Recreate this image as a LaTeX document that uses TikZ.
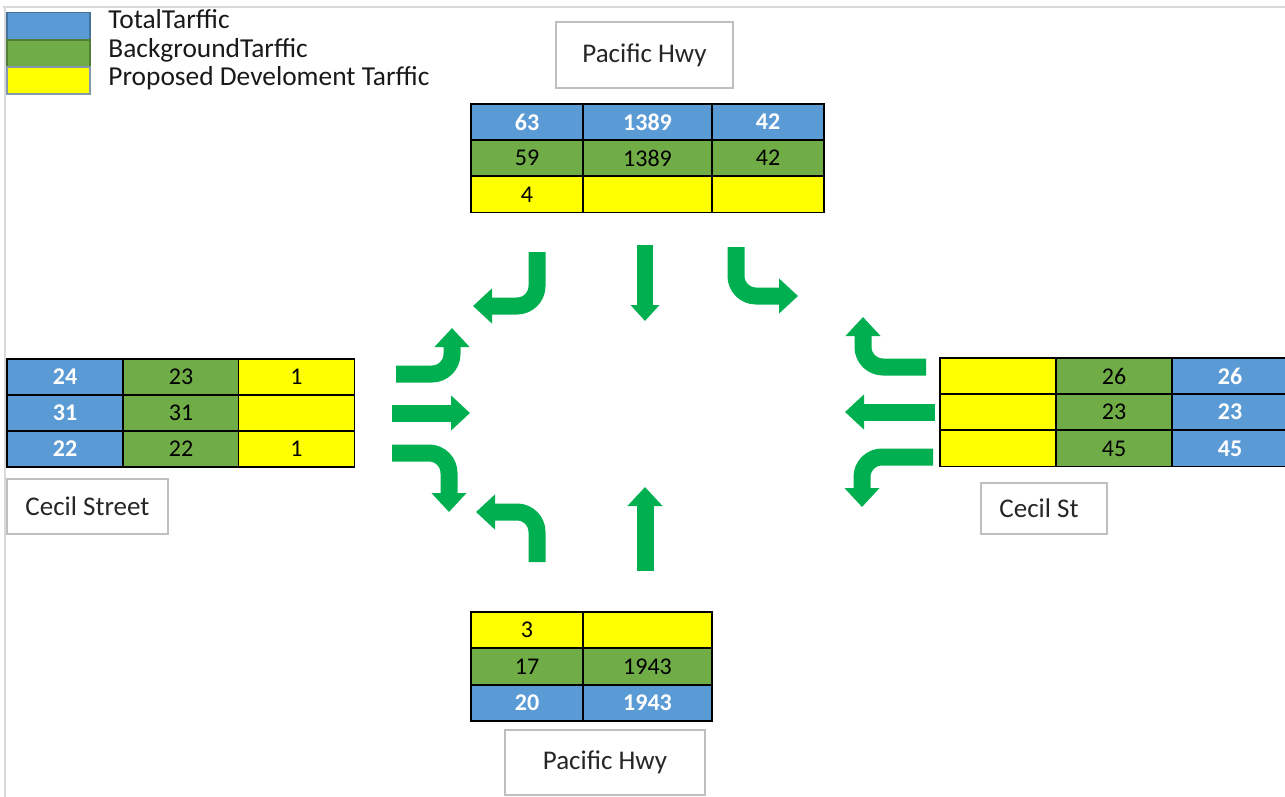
\documentclass[tikz,border=0pt]{standalone}
\usepackage{fontspec}
\setmainfont{Carlito}
\usetikzlibrary{arrows.meta}

\definecolor{totblue}{HTML}{5B9BD5}
\definecolor{bggreen}{HTML}{70AD47}
\definecolor{devyellow}{HTML}{FFFF00}
\definecolor{flowgreen}{HTML}{00B050}
\definecolor{edgegrey}{HTML}{BFBFBF}
\definecolor{framegrey}{HTML}{D9D9D9}
\definecolor{swblue}{HTML}{41719C}
\definecolor{swgreen}{HTML}{507E32}
\definecolor{swyellow}{HTML}{8497B0}

\begin{document}
\begin{tikzpicture}[x=0.5pt,y=-0.5pt,
  cell/.style={draw=black, line width=0.8pt, inner sep=0pt, minimum height=18pt,
               font=\fontsize{12}{14}\selectfont, text=black},
  tot/.style={cell, fill=totblue, text=white, font=\fontsize{12}{14}\selectfont\bfseries},
  bg/.style={cell, fill=bggreen},
  dev/.style={cell, fill=devyellow},
  narrowcol/.style={minimum width=56pt},
  widecol/.style={minimum width=64.5pt},
  sidecol/.style={minimum width=58pt},
  street/.style={draw=edgegrey, line width=0.8pt, fill=white, inner sep=0pt,
                 font=\fontsize{13.5}{16}\selectfont, text=black!85},
  swatch/.style={line width=0.6pt, inner sep=0pt, minimum width=41.5pt, minimum height=13.5pt},
  legtext/.style={anchor=base west, inner sep=0pt, font=\fontsize{13.7}{16}\selectfont, text=black!90},
  flow/.style={draw=flowgreen, line width=8.5pt, rounded corners=10pt,
               -{Triangle[width=17pt,length=9.5pt]}}
]
\useasboundingbox (0,0) rectangle (1285,797);

% page frame
\draw[framegrey, line width=1pt] (3,7) -- (1285,7);
\draw[framegrey, line width=1pt] (5,7) -- (5,797);

% legend
\node[swatch, draw=swblue, fill=totblue] (swTot) at (48.5,26) {};
\node[swatch, draw=swgreen, fill=bggreen] (swBg) at (48.5,53.5) {};
\node[swatch, draw=swyellow, fill=devyellow] (swDev) at (48.5,80.5) {};
\node[legtext] (lgTot) at (108,29) {TotalTarffic};
\node[legtext] (lgBg) at (108,58) {BackgroundTarffic};
\node[legtext] (lgDev) at (108,86) {Proposed Develoment Tarffic};

% north approach: Pacific Hwy
\node[street, minimum width=88.5pt, minimum height=33pt] (nName) at (644.5,55) {Pacific Hwy};
\node[tot, narrowcol] (n11) at (527,122) {63};
\node[tot, widecol]   (n12) at (647.5,122) {1389};
\node[tot, narrowcol] (n13) at (768,122) {42};
\node[bg, narrowcol]  (n21) at (527,158) {59};
\node[bg, widecol]    (n22) at (647.5,158) {1389};
\node[bg, narrowcol]  (n23) at (768,158) {42};
\node[dev, narrowcol] (n31) at (527,194.5) {4};
\node[dev, widecol]   (n32) at (647.5,194.5) {};
\node[dev, narrowcol] (n33) at (768,194.5) {};

% west approach: Cecil Street
\node[tot, sidecol] (w11) at (65,377) {24};
\node[bg, sidecol]  (w12) at (181,377) {23};
\node[dev, sidecol] (w13) at (296.5,377) {1};
\node[tot, sidecol] (w21) at (65,413) {31};
\node[bg, sidecol]  (w22) at (181,413) {31};
\node[dev, sidecol] (w23) at (296.5,413) {};
\node[tot, sidecol] (w31) at (65,449) {22};
\node[bg, sidecol]  (w32) at (181,449) {22};
\node[dev, sidecol] (w33) at (296.5,449) {1};
\node[street, minimum width=80.5pt, minimum height=27.5pt] (wName) at (87.5,506.5) {Cecil Street};

% east approach: Cecil St
\node[dev, sidecol] (e11) at (998,376) {};
\node[bg, sidecol]  (e12) at (1114,376) {26};
\node[tot, sidecol] (e13) at (1230,376) {26};
\node[dev, sidecol] (e21) at (998,412) {};
\node[bg, sidecol]  (e22) at (1114,412) {23};
\node[tot, sidecol] (e23) at (1230,412) {23};
\node[dev, sidecol] (e31) at (998,448.5) {};
\node[bg, sidecol]  (e32) at (1114,448.5) {45};
\node[tot, sidecol] (e33) at (1230,448.5) {45};
\node[street, minimum width=63pt, minimum height=25.5pt] (eName) at (1044,508.5) {Cecil St\hspace*{5pt}};

% south approach: Pacific Hwy
\node[dev, narrowcol] (s11) at (527,630) {3};
\node[dev, widecol]   (s12) at (647.5,630) {};
\node[bg, narrowcol]  (s21) at (527,666.5) {17};
\node[bg, widecol]    (s22) at (647.5,666.5) {1943};
\node[tot, narrowcol] (s31) at (527,703) {20};
\node[tot, widecol]   (s32) at (647.5,703) {1943};
\node[street, minimum width=100pt, minimum height=32.5pt] (sName) at (605,762.5) {Pacific Hwy};

% turning movements
\draw[flow] (537,252) |- (473,306);
\draw[flow, line width=8pt, -{Triangle[width=14pt,length=8pt]}] (645,245) -- (645,321);
\draw[flow] (736,247) |- (798,296);
\draw[flow] (926,367) -| (863,317);
\draw[flow] (935,412) -- (845,412);
\draw[flow] (933,457) -| (862,507);
\draw[flow] (396,374) -| (452,328);
\draw[flow] (392,413) -- (470,413);
\draw[flow] (392,453) -| (449,512);
\draw[flow] (537,562) |- (476,512);
\draw[flow] (645,571) -- (645,487);
\end{tikzpicture}
\end{document}
